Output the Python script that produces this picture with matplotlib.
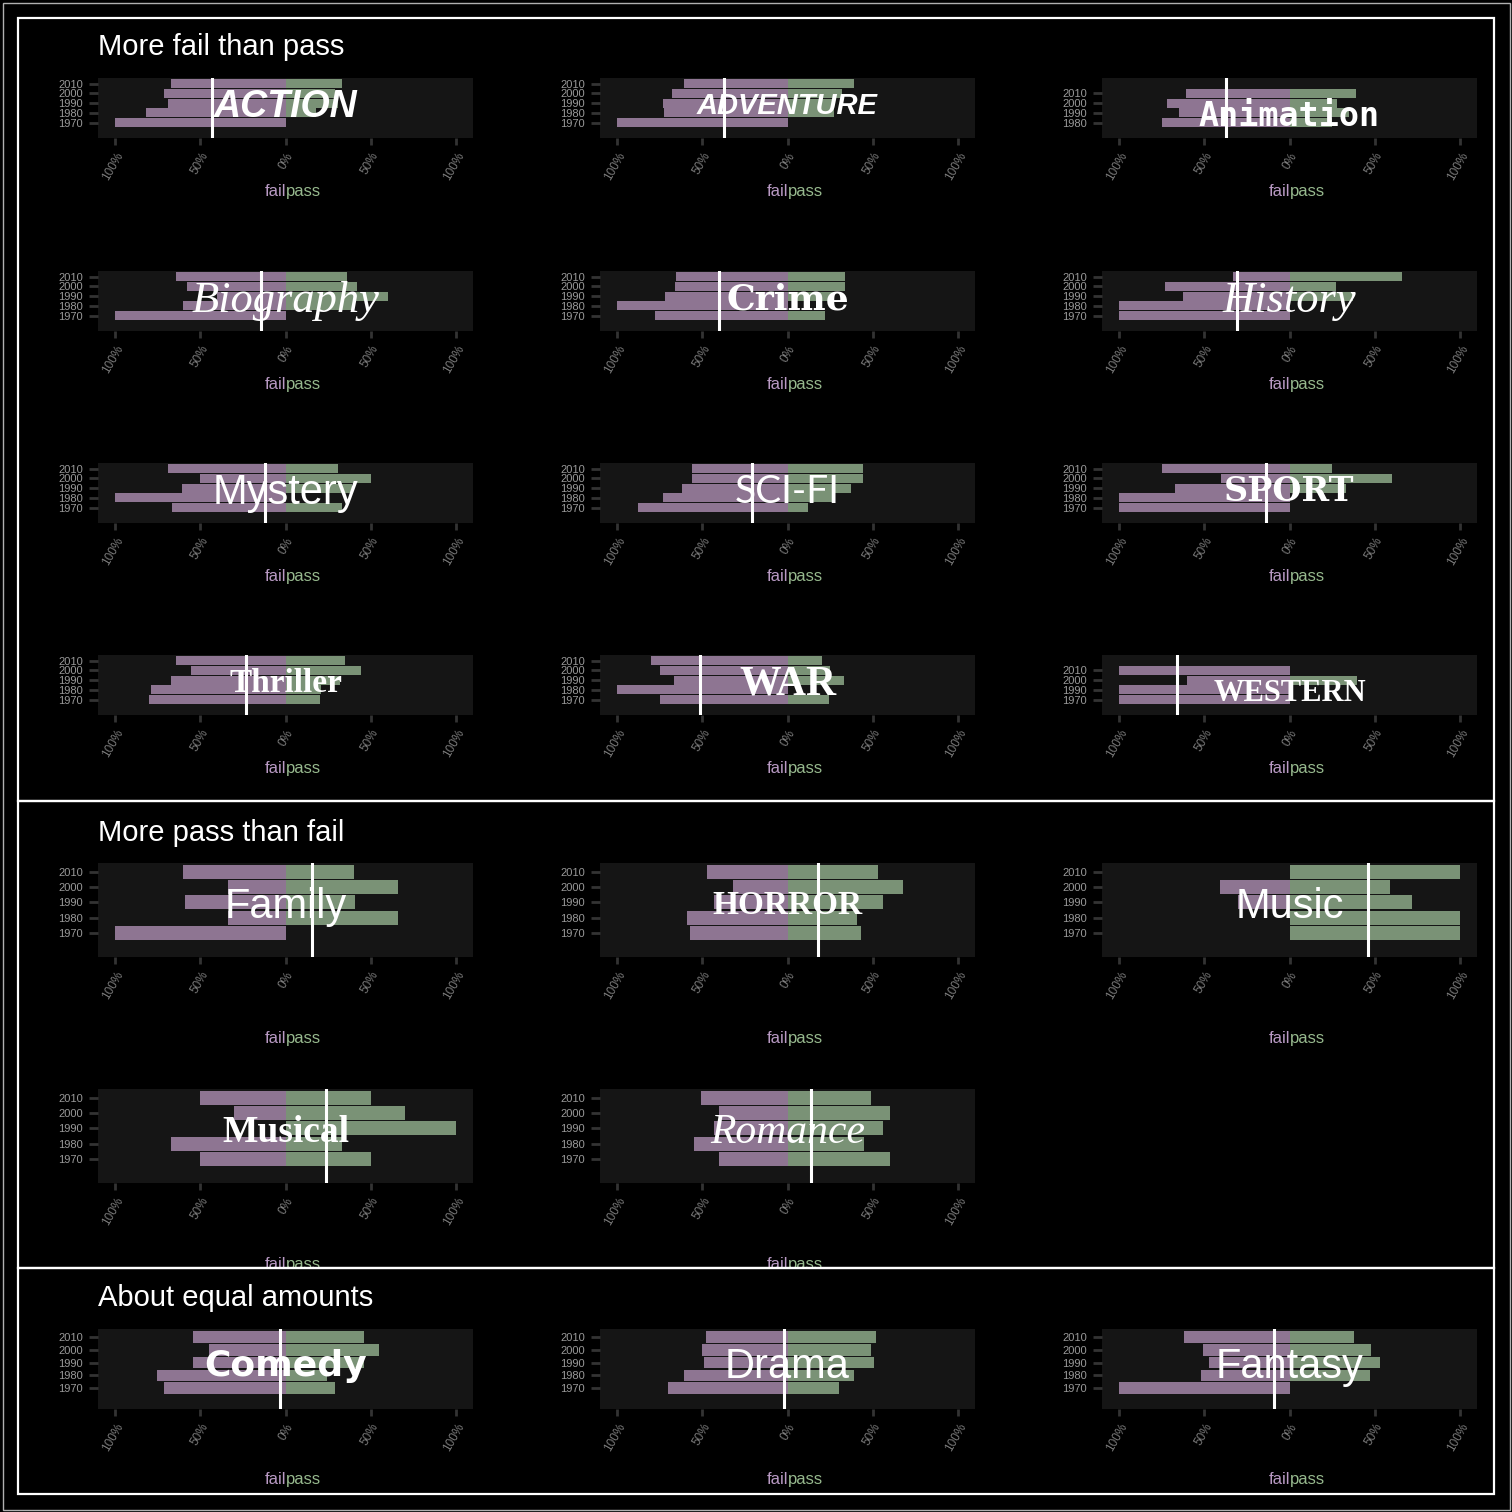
import matplotlib
matplotlib.use("Agg")
import matplotlib.pyplot as plt
from matplotlib.patches import Rectangle
from matplotlib.transforms import Bbox, TransformedBbox

plt.rcParams["font.family"] = ["Liberation Sans", "DejaVu Sans"]

# ----------------------------------------------------------
# Data (shares of films per decade)
# ----------------------------------------------------------

genres = [
    "Action", "Adventure", "Animation",
    "Biography", "Crime", "History",
    "Mystery", "Sci-Fi", "Sport",
    "Thriller", "War", "Western",
    "Family", "Horror", "Music",
    "Musical", "Romance",
    "Comedy", "Drama", "Fantasy",
]

genre_labels = [
    "ACTION", "ADVENTURE", "Animation",
    "Biography", "Crime", "History",
    "Mystery", "SCI-FI", "SPORT",
    "Thriller", "WAR", "WESTERN",
    "Family", "HORROR", "Music",
    "Musical", "Romance",
    "Comedy", "Drama", "Fantasy",
]

five = [1970, 1980, 1990, 2000, 2010]

decades = [
    five, five, [1980, 1990, 2000, 2010],
    five, five, five,
    five, five, five,
    five, five, [1970, 1990, 2000, 2010],
    five, five, five,
    five, five,
    five, five, five,
]

fail_share = [
    [1.00, 0.82, 0.69, 0.71, 0.67],
    [1.00, 0.725, 0.73, 0.68, 0.61],
    [0.75, 0.65, 0.72, 0.61],
    [1.00, 0.60, 0.40, 0.58, 0.64],
    [0.78, 1.00, 0.72, 0.66, 0.655],
    [1.00, 1.00, 0.625, 0.73, 0.33],
    [0.665, 1.00, 0.61, 0.50, 0.69],
    [0.875, 0.73, 0.62, 0.56, 0.56],
    [1.00, 1.00, 0.67, 0.40, 0.75],
    [0.80, 0.79, 0.67, 0.555, 0.64],
    [0.75, 1.00, 0.665, 0.75, 0.80],
    [1.00, 1.00, 0.60, 1.00],
    [1.00, 0.335, 0.59, 0.34, 0.60],
    [0.57, 0.59, 0.43, 0.32, 0.47],
    [0.00, 0.00, 0.30, 0.41, 0.00],
    [0.50, 0.67, 0.00, 0.30, 0.50],
    [0.40, 0.55, 0.43, 0.40, 0.51],
    [0.71, 0.755, 0.54, 0.45, 0.54],
    [0.70, 0.61, 0.49, 0.50, 0.48],
    [1.00, 0.52, 0.47, 0.51, 0.62],
]

pass_share = [
    [0.00, 0.18, 0.31, 0.29, 0.33],
    [0.00, 0.275, 0.27, 0.32, 0.39],
    [0.25, 0.35, 0.28, 0.39],
    [0.00, 0.40, 0.60, 0.42, 0.36],
    [0.22, 0.00, 0.27, 0.34, 0.34],
    [0.00, 0.00, 0.375, 0.275, 0.66],
    [0.33, 0.00, 0.39, 0.50, 0.31],
    [0.12, 0.27, 0.375, 0.44, 0.44],
    [0.00, 0.00, 0.33, 0.60, 0.25],
    [0.20, 0.21, 0.32, 0.445, 0.35],
    [0.245, 0.00, 0.33, 0.25, 0.20],
    [0.00, 0.00, 0.395, 0.00],
    [0.00, 0.66, 0.41, 0.66, 0.40],
    [0.43, 0.41, 0.56, 0.68, 0.53],
    [1.00, 1.00, 0.72, 0.59, 1.00],
    [0.50, 0.33, 1.00, 0.70, 0.50],
    [0.60, 0.45, 0.56, 0.60, 0.49],
    [0.29, 0.245, 0.46, 0.55, 0.46],
    [0.30, 0.39, 0.51, 0.49, 0.52],
    [0.00, 0.47, 0.53, 0.48, 0.38],
]

# overall balance marker (white line)
overall_balance = [
    -0.43, -0.37, -0.37,
    -0.145, -0.40, -0.31,
    -0.12, -0.21, -0.14,
    -0.23, -0.515, -0.66,
    0.155, 0.18, 0.46,
    0.24, 0.14,
    -0.03, -0.02, -0.09,
]

section_titles = ["More fail than pass", "More pass than fail", "About equal amounts"]
section_sizes = [12, 5, 3]

x_ticks = [-1, -0.5, 0, 0.5, 1]
x_tick_labels = ["100%", "50%", "0%", "50%", "100%"]

# ----------------------------------------------------------
# Styling
# ----------------------------------------------------------

FAIL = "#8e7592"
PASS = "#7a9276"
FAIL_TXT = "#b99ac4"
PASS_TXT = "#97b98e"
PANEL = "#151515"
TICK = "#333333"

label_fonts = {
    "Action": dict(family="Liberation Sans", weight="bold", style="italic", size=27),
    "Adventure": dict(family="Liberation Sans", weight="bold", style="italic", size=21),
    "Animation": dict(family="DejaVu Sans Mono", weight="bold", size=24),
    "Biography": dict(family="Liberation Serif", style="italic", size=32),
    "Crime": dict(family="DejaVu Serif", weight="bold", size=26),
    "History": dict(family="Liberation Serif", style="italic", size=32),
    "Mystery": dict(family="Liberation Sans", size=30),
    "Sci-Fi": dict(family="Lato", size=28),
    "Sport": dict(family="DejaVu Serif", weight="bold", size=24),
    "Thriller": dict(family="Liberation Serif", weight="bold", size=24),
    "War": dict(family="Liberation Serif", weight="bold", size=30),
    "Western": dict(family="Liberation Serif", weight="bold", size=22),
    "Family": dict(family="Liberation Sans", size=30),
    "Horror": dict(family="Liberation Serif", weight="bold", size=24),
    "Music": dict(family="Liberation Sans", size=30),
    "Musical": dict(family="Liberation Serif", weight="bold", size=27),
    "Romance": dict(family="Liberation Serif", style="italic", size=30),
    "Comedy": dict(family="DejaVu Sans", weight="bold", size=26),
    "Drama": dict(family="Liberation Sans", size=30),
    "Fantasy": dict(family="Liberation Sans", size=30),
}

W = H = 1512
fig = plt.figure(figsize=(15.12, 15.12), dpi=100, facecolor="black")


def fx(x):
    return x / W


def fy(y):
    return 1 - y / H


def box(x0, y0, x1, y1, color, lw, z=10):
    fig.patches.append(Rectangle(
        (fx(x0), fy(y1)), fx(x1) - fx(x0), fy(y0) - fy(y1),
        transform=fig.transFigure, fill=False, edgecolor=color,
        linewidth=lw, zorder=z,
    ))


# layout in pixels: row tops, panel height, baseline offset of "failpass"
col_left = [98, 600, 1102]
col_zero = [286, 788, 1290]
panel_w = 375
section_rows = [
    ([78, 271, 463, 655], 60, 58),
    ([863, 1089], 94, 86),
    ([1329], 80, 75),
]
section_title_y = [55, 841, 1306]
section_bounds = [(17.5, 801), (801, 1268), (1268, 1493.5)]

idx = 0
for s, (title, count) in enumerate(zip(section_titles, section_sizes)):
    tops, height, label_off = section_rows[s]
    fig.text(fx(98), fy(section_title_y[s]), title, color="white",
             fontsize=21, va="baseline", ha="left")
    sy0, sy1 = section_bounds[s]
    clip = TransformedBbox(
        Bbox.from_extents(0, fy(sy1), 1, fy(sy0)), fig.transFigure)

    for k in range(count):
        g = idx + k
        row, col = divmod(k, 3)
        top = tops[row]
        ax = fig.add_axes([fx(col_left[col]), fy(top + height),
                           panel_w / W, height / H])
        ax.set_facecolor(PANEL)
        for sp in ax.spines.values():
            sp.set_visible(False)

        pos = list(range(len(decades[g])))
        ax.barh(pos, [-v for v in fail_share[g]], height=0.92, color=FAIL, zorder=2)
        ax.barh(pos, pass_share[g], height=0.92, color=PASS, zorder=2)
        ax.axvline(overall_balance[g], color="white", lw=2.2, zorder=3)

        lab_y = decades[g].index(1990)
        ax.text(0, lab_y, genre_labels[g], color="white", ha="center",
                va="center_baseline", zorder=4, **label_fonts[genres[g]])

        ax.set_xlim(-1.1, 1.1)
        ax.set_ylim(-1.6, 4.6)
        ax.set_yticks(pos)
        ax.set_yticklabels([str(d) for d in decades[g]])
        ax.set_xticks(x_ticks)
        ax.set_xticklabels(x_tick_labels, rotation=60, ha="right",
                           va="top", rotation_mode="anchor")
        ax.tick_params(axis="y", length=6.5, width=2, color=TICK,
                       labelsize=8, labelcolor="#999999", pad=4.5)
        ax.tick_params(axis="x", length=5, width=2, color=TICK,
                       labelsize=8.5, labelcolor="#7a7a7a", pad=4)

        ly = fy(top + height + label_off)
        t1 = fig.text(fx(col_zero[col]), ly, "fail", color=FAIL_TXT,
                      fontsize=12, ha="right", va="baseline")
        t2 = fig.text(fx(col_zero[col]), ly, "pass", color=PASS_TXT,
                      fontsize=12, ha="left", va="baseline")
        for t in (t1, t2):
            t.set_clip_box(clip)
            t.set_clip_on(True)
    idx += count

# frames
box(2.5, 2.5, 1509.5, 1509.5, "#b0b0b0", 1.0)
for sy0, sy1 in section_bounds:
    box(17.5, sy0, 1493.5, sy1, "white", 1.6)

fig.savefig("out.png", dpi=100, facecolor="black")
